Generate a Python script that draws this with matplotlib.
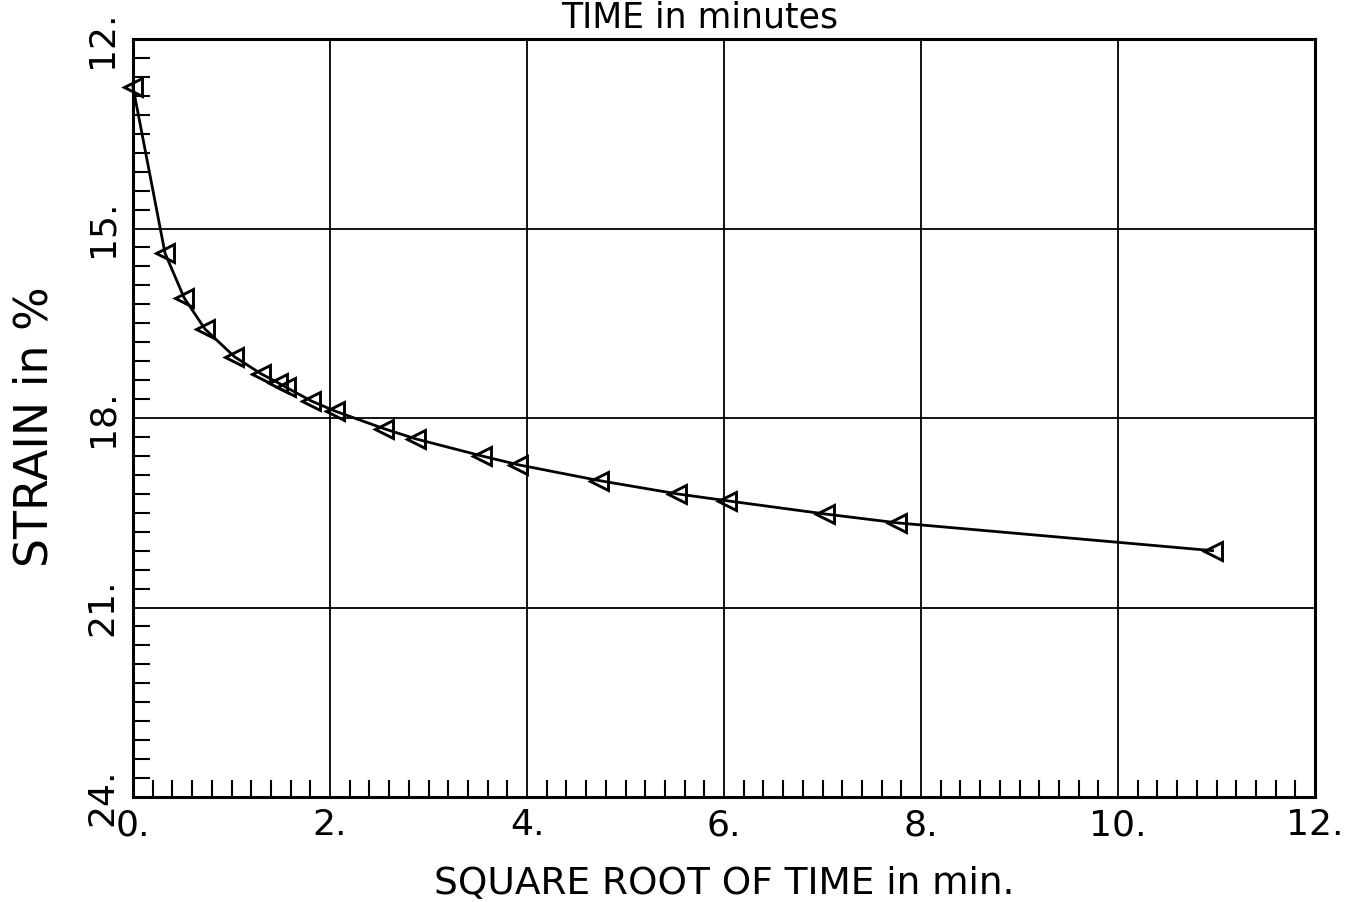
import numpy as np
import matplotlib
matplotlib.use("Agg")
import matplotlib.pyplot as plt
from matplotlib.ticker import MultipleLocator

# data
sqrt_time = [0.0, 0.325, 0.52, 0.73, 1.03, 1.30, 1.47, 1.55, 1.81, 2.05,
             2.55, 2.87, 3.54, 3.91, 4.73, 5.52, 6.03, 7.03, 7.76, 10.96]
strain = [12.76, 15.39, 16.10, 16.59, 17.03, 17.30, 17.44, 17.51, 17.73, 17.89,
          18.17, 18.33, 18.60, 18.74, 18.99, 19.20, 19.31, 19.52, 19.66, 20.10]

xticks = [0, 2, 4, 6, 8, 10, 12]
yticks = [12, 15, 18, 21, 24]
xlabels = ["0.", "2.", "4.", "6.", "8.", "10.", "12."]
ylabels = ["12.", "15.", "18.", "21.", "24."]

plt.rcParams['font.family'] = ['DejaVu Sans']

fig = plt.figure(figsize=(13.62, 9.02), dpi=100)
ax = fig.add_axes([133 / 1362, 1 - 797 / 902, 1182 / 1362, 758 / 902])

ax.plot(sqrt_time, strain, color='black', lw=2.0, marker='<', markersize=12.5,
        markerfacecolor='none', markeredgecolor='black', markeredgewidth=2.1,
        clip_on=False, zorder=3)

ax.set_xlim(0, 12)
ax.set_ylim(24, 12)
ax.set_xticks(xticks)
ax.set_yticks(yticks)
ax.xaxis.set_minor_locator(MultipleLocator(0.2))
ax.yaxis.set_minor_locator(MultipleLocator(0.3))
ax.grid(True, which='major', color='black', lw=1.3)
ax.tick_params(which='major', length=0)
ax.tick_params(axis='x', which='major', pad=8)
ax.tick_params(axis='y', which='major', pad=10)
ax.tick_params(which='minor', direction='in', length=12, width=1.5, color='black')
for s in ax.spines.values():
    s.set_linewidth(2.2)

ax.set_xticklabels(xlabels, fontsize=26)
ax.set_yticklabels(ylabels, rotation=90, va='center', fontsize=26)

# axis titles placed in figure coords
fig.text((133 + 1315) / 2 / 1362, 1 - 894 / 902, "SQUARE ROOT OF TIME in min.",
         ha='center', va='baseline', fontsize=27)
fig.text(35 / 1362, 1 - 427 / 902, "STRAIN in %", rotation=90,
         ha='center', va='center', fontsize=33)
fig.text(0.514, 1 - 28 / 902, "TIME in minutes", ha='center', va='baseline',
         fontsize=25)

fig.savefig("out.png", dpi=100)
